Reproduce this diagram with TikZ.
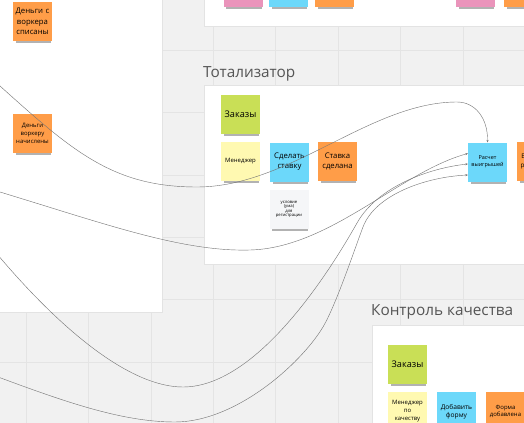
\documentclass[tikz,border=0pt]{standalone}
\usepackage{fontspec}
\setmainfont{Open Sans}
\usetikzlibrary{arrows.meta,positioning,calc,shadows}
\definecolor{bg}{HTML}{F1F1F1}
\definecolor{grd}{HTML}{E4E4E4}
\definecolor{pbd}{HTML}{E3E3E3}
\definecolor{org}{HTML}{FF9D48}
\definecolor{blu}{HTML}{6CD8FA}
\definecolor{grn}{HTML}{C9DF56}
\definecolor{ylw}{HTML}{FFF9B1}
\definecolor{pnk}{HTML}{EA94BB}
\definecolor{gry}{HTML}{F5F6F8}
\definecolor{ttl}{HTML}{555555}
\definecolor{lnc}{HTML}{767676}

\begin{document}
\begin{tikzpicture}[x=0.05cm,y=-0.05cm,>={Stealth[length=3.5pt,width=3pt]},
pn/.style={fill=white,draw=pbd,line width=0.8pt},gl/.style={draw=grd,line width=0.8pt},
st/.style={fill=#1,minimum size=1.95cm,inner sep=0pt,align=center,text width=1.85cm,
 drop shadow={shadow scale=0.92,shadow xshift=1.5pt,shadow yshift=-6pt,opacity=.3,fill=black}},
ln/.style={draw=lnc,line width=0.6pt},hd/.style={font=\fontsize{21.8}{24}\selectfont,text=ttl,anchor=base west,inner sep=0pt}]
\useasboundingbox (0,0) rectangle (524,423);\clip (0,0) rectangle (524,423);
\fill[bg] (0,0) rectangle (524,423);
\foreach \i in {0,...,8} \draw[gl] ({26+62.4*\i},0) -- ++(0,423);
\foreach \i in {0,...,7} \draw[gl] (0,{-12.4+62.4*\i}) -- ++(524,0);
\draw[pn] (-5,-5) rectangle (162,312);\draw[pn] (204,-5) rectangle (530,26);
\draw[pn] (204,85) rectangle (530,264);\draw[pn] (372,325) rectangle (530,430);
\node[hd] (h1) at (203,77) {Тотализатор};\node[hd] (h2) at (371,315) {Контроль качества};
\node[st=pnk] (t1) at (243,-12.5) {};\node[st=blu] (t2) at (288.5,-12.5) {};\node[st=org] (t3) at (334.5,-12.5) {};
\node[st=pnk] (t4) at (475.5,-12.5) {};\node[st=org] (t5) at (523.5,-12.5) {};
\node[st=org,font=\fontsize{11}{15}\selectfont] (d1) at (32.5,21.5) {Деньги с\\воркера\\списаны};
\node[st=org,font=\fontsize{8.5}{11.4}\selectfont] (d2) at (32.5,133.5) {Деньги\\воркеру\\начислены};
\node[st=grn,font=\fontsize{13}{15}\selectfont] (z1) at (240.5,114.5) {Заказы};
\node[st=ylw,font=\fontsize{8.5}{10}\selectfont] (m1) at (240.5,161.5) {Менеджер};
\node[st=blu,font=\fontsize{11}{14}\selectfont] (b1) at (289.5,162) {Сделать\\ставку};
\node[st=org,font=\fontsize{11}{14}\selectfont] (o1) at (337.5,161.5) {Ставка\\сделана};
\node[st=gry,font=\fontsize{6}{6.5}\selectfont] (u1) at (289,209.5) {условие\\(ума)\\для\\регистрации};
\node[st=blu,font=\fontsize{7.8}{10.4}\selectfont] (r) at (487.5,162) {Расчет\\выигрышей};
\node[st=org,font=\fontsize{9}{11.4}\selectfont] (o2) at (536.5,161.5) {Выигрыш\\рассчитан};
\node[st=grn,font=\fontsize{13}{15}\selectfont] (z2) at (407.5,364.5) {Заказы};
\node[st=ylw,font=\fontsize{8.5}{11.4}\selectfont] (m2) at (407.5,411.5) {Менеджер\\по\\качеству};
\node[st=blu,font=\fontsize{9.5}{11.4}\selectfont] (b2) at (456.5,411.5) {Добавить\\форму};
\node[st=org,font=\fontsize{8.5}{10}\selectfont] (o3) at (505.5,411.5) {Форма\\добавлена};
\coordinate (c1) at (-10,77);\coordinate (c2) at (-10,189);\coordinate (c3) at (-8,248);\coordinate (c4) at (-10,374);
\coordinate (r1) at ($(r.west)+(0,-8.5)$);\coordinate (r2) at ($(r.west)+(0,2)$);\coordinate (r3) at ($(r.west)+(0,13)$);
\draw[ln,->] (c1) .. controls (70,149) and (110,187) .. (197,187) .. controls (290,187) and (370,102) .. (457,102) .. controls (475,102) and (488,118) .. (r.north);
\draw[ln,->] (c2) .. controls (100,222) and (180,252) .. (250,250) .. controls (330,248) and (400,172) .. (r1);
\draw[ln,->] (c3) .. controls (60,330) and (130,387) .. (183,387) .. controls (260,387) and (335,262) .. (357,223) .. controls (378,186) and (430,168) .. (r2);
\draw[ln,->] (c4) .. controls (60,400) and (120,422) .. (175,422) .. controls (235,422) and (300,365) .. (323,327) .. controls (336,305) and (355,248) .. (363,227) .. controls (375,195) and (425,177) .. (r3);
\end{tikzpicture}
\end{document}
